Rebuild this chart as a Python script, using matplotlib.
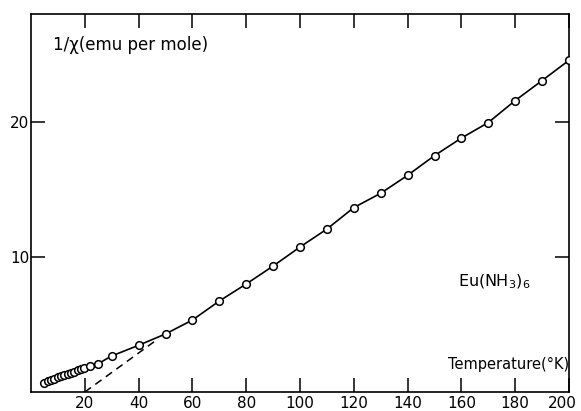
import matplotlib
matplotlib.use("Agg")
import matplotlib.pyplot as plt
import matplotlib.transforms as mtransforms

# Data
temp_K = [5.0, 6.2, 7.5, 8.7, 9.9, 11.1, 12.3, 13.6, 14.8, 16.0, 17.3, 18.5, 19.6, 22.0,
          25, 30, 40, 50, 60, 70, 80, 90, 100, 110, 120, 130, 140, 150, 160, 170, 180, 190, 200]
inv_chi = [0.70, 0.81, 0.92, 0.99, 1.09, 1.16, 1.26, 1.33, 1.43, 1.51, 1.61, 1.70, 1.80, 1.95,
           2.10, 2.67, 3.46, 4.30, 5.33, 6.74, 8.00, 9.33, 10.74, 12.07, 13.66, 14.72, 16.05,
           17.51, 18.81, 19.96, 21.59, 23.07, 24.57]

# Extrapolated Curie-Weiss line (dashed)
dash_T = [20, 47]
dash_chi = [0.0, 3.9]

x_ticks = [20, 40, 60, 80, 100, 120, 140, 160, 180, 200]
y_ticks = [10, 20]

fig = plt.figure(figsize=(5.81, 4.11), dpi=100)
ax = fig.add_axes([31/581, 1-392/411, (569-31)/581, (392-14)/411])

ax.plot(temp_K, inv_chi, color="black", lw=1.2, zorder=2)
ax.plot(temp_K, inv_chi, ls="none", marker="o", ms=5.5, mfc="white", mec="black",
        mew=1.1, zorder=3)
ax.plot(dash_T, dash_chi, color="black", lw=1.1, ls=(0, (5, 3.5)), zorder=1)

ax.set_xlim(0, 200)
ax.set_ylim(0, 28)
ax.set_xticks(x_ticks)
ax.set_xticklabels([str(t) for t in x_ticks])
ax.set_yticks(y_ticks)
ax.set_yticklabels([str(t) for t in y_ticks])
ax.tick_params(axis="both", direction="in", length=10, width=1.1, labelsize=11,
               top=True, right=True, colors="black")
ax.tick_params(axis="x", pad=3)
ax.tick_params(axis="y", pad=1)
for s in ax.spines.values():
    s.set_linewidth(1.2)

# keep the last x label inside the figure
last = ax.get_xticklabels()[-1]
last.set_transform(last.get_transform() + mtransforms.ScaledTranslation(-7/100, 0, fig.dpi_scale_trans))

ax.text((53-31)/538, 1 - (45-14)/378, "1/χ(emu per mole)", transform=ax.transAxes,
        fontsize=12, ha="left", va="center")
ax.text((458-31)/538, 1 - (282-14)/378, "Eu(NH$_3$)$_6$", transform=ax.transAxes,
        fontsize=11.5, ha="left", va="center")
ax.text(1.0, 1 - (364-14)/378, "Temperature(°K)", transform=ax.transAxes,
        fontsize=10.5, ha="right", va="center")

fig.savefig("out.png", dpi=100)
